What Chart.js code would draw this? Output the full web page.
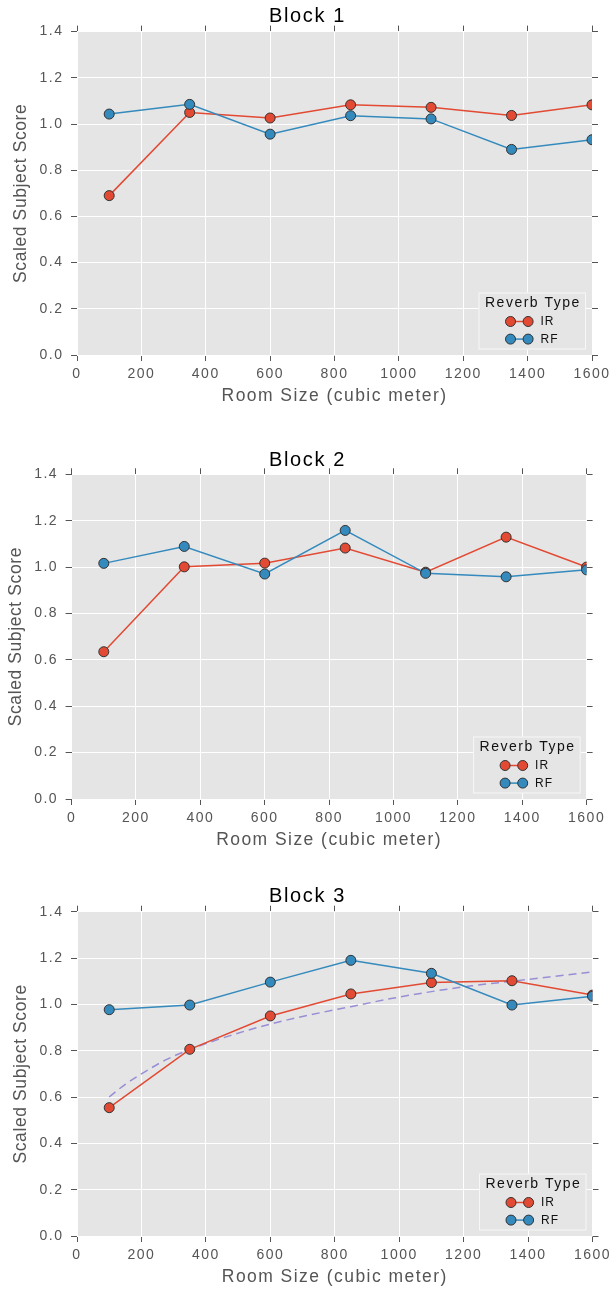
<!DOCTYPE html>
<html>
<head>
<meta charset="utf-8">
<script src="https://cdn.jsdelivr.net/npm/chart.js@4.4.0/dist/chart.umd.min.js"></script>
<style>
  body { margin: 0; background: #fff; }
  canvas { position: absolute; left: 0; }
</style>
</head>
<body>
<canvas id="block1" width="615" height="440" style="top:0px"></canvas>
<canvas id="block2" width="615" height="440" style="top:440px"></canvas>
<canvas id="block3" width="615" height="409" style="top:880px"></canvas>
<script>
// room sizes tested (cubic meter)
const roomSizes = [100, 350, 600, 850, 1100, 1350, 1600];
const seriesNames = ["IR", "RF"];

const xTickValues = [0, 200, 400, 600, 800, 1000, 1200, 1400, 1600];
const xTickLabels = ["0", "200", "400", "600", "800", "1000", "1200", "1400", "1600"];
const yTickValues = [0, 0.2, 0.4, 0.6, 0.8, 1.0, 1.2, 1.4];
const yTickLabels = ["0.0", "0.2", "0.4", "0.6", "0.8", "1.0", "1.2", "1.4"];

const block1IR = [0.69, 1.05, 1.026, 1.083, 1.072, 1.037, 1.083];
const block1RF = [1.043, 1.085, 0.956, 1.036, 1.022, 0.89, 0.932];

const block2IR = [0.635, 1.001, 1.017, 1.082, 0.978, 1.129, 1.0];
const block2RF = [1.016, 1.089, 0.97, 1.158, 0.973, 0.958, 0.988];

const block3IR = [0.554, 0.806, 0.95, 1.045, 1.094, 1.102, 1.04];
const block3RF = [0.977, 0.997, 1.096, 1.19, 1.134, 0.997, 1.035];

// dashed trend line in block 3
const fitSizes = [100, 150, 200, 275, 350, 475, 600, 725, 850, 975, 1100, 1225, 1350, 1475, 1600];
const block3Fit = [0.6, 0.655, 0.7, 0.76, 0.805, 0.865, 0.915, 0.955, 0.99, 1.025, 1.055, 1.08, 1.1, 1.12, 1.14];

const IR_COLOR = "#E24A33";
const RF_COLOR = "#348ABD";
const FIT_COLOR = "#988ED5";
const FONT = "'Liberation Sans', Arial, sans-serif";

Chart.defaults.font.family = FONT;
Chart.defaults.color = "#555555";

function toPoints(xs, ys) {
  return xs.map((x, i) => ({ x: x, y: ys[i] }));
}

// the original was rendered by matplotlib, whose text runs a bit wider;
// add some letter spacing depending on the font size
function spacingFor(size, rotated) {
  if (size >= 19) return 1.6;
  if (size >= 16) return rotated ? 0.6 : 1.45;
  if (size >= 13) return 1.5;
  return 1.0;
}

function widenText(canvas) {
  const ctx = canvas.getContext("2d");
  const rawFill = ctx.fillText;
  ctx.fillText = function (text, x, y, maxWidth) {
    const m = /([\d.]+)px/.exec(ctx.font);
    const size = m ? parseFloat(m[1]) : 12;
    const t = ctx.getTransform();
    const prev = ctx.letterSpacing;
    ctx.letterSpacing = spacingFor(size, Math.abs(t.b) > 0.01) + "px";
    if (maxWidth === undefined) rawFill.call(ctx, text, x, y);
    else rawFill.call(ctx, text, x, y, maxWidth);
    ctx.letterSpacing = prev;
  };
  return canvas;
}

const plotBackground = {
  id: "plotBackground",
  beforeDraw(chart) {
    const { ctx, chartArea } = chart;
    ctx.save();
    ctx.fillStyle = "#E5E5E5";
    ctx.fillRect(chartArea.left, chartArea.top, chartArea.right - chartArea.left, chartArea.bottom - chartArea.top);
    ctx.restore();
  }
};

// matplotlib style legend: title + "o-o" samples, bottom right inside the plot
const reverbLegend = {
  id: "reverbLegend",
  afterDraw(chart) {
    const { ctx, chartArea } = chart;
    const w = 107.5, h = 57;
    const left = chartArea.right - 6 - w;
    const top = chartArea.bottom - 5.5 - h;
    const colors = [IR_COLOR, RF_COLOR];

    ctx.save();
    ctx.fillStyle = "#E5E5E5";
    ctx.strokeStyle = "#F7F7F7";
    ctx.lineWidth = 1;
    ctx.fillRect(left, top, w, h);
    ctx.strokeRect(left + 0.5, top + 0.5, w - 1, h - 1);

    ctx.fillStyle = "#111";
    ctx.font = "14px " + FONT;
    ctx.textAlign = "center";
    ctx.textBaseline = "middle";
    ctx.fillText("Reverb Type", left + w / 2 + 0.7, top + 11);

    seriesNames.forEach((name, i) => {
      const y = top + 29 + i * 17.6;
      const x1 = left + 32, x2 = left + 49.6;
      ctx.strokeStyle = colors[i];
      ctx.lineWidth = 1.5;
      ctx.beginPath();
      ctx.moveTo(x1, y);
      ctx.lineTo(x2, y);
      ctx.stroke();
      [x1, x2].forEach((x) => {
        ctx.beginPath();
        ctx.arc(x, y, 5, 0, Math.PI * 2);
        ctx.fillStyle = colors[i];
        ctx.fill();
        ctx.lineWidth = 1;
        ctx.strokeStyle = "#333";
        ctx.stroke();
      });
      ctx.fillStyle = "#111";
      ctx.font = "12px " + FONT;
      ctx.textAlign = "left";
      ctx.fillText(name, left + 62, y + 0.5);
    });
    ctx.restore();
  }
};

function lineSet(label, data, color, order) {
  return {
    label: label,
    data: data,
    borderColor: color,
    backgroundColor: color,
    borderWidth: 1.5,
    pointRadius: 5,
    pointHoverRadius: 5,
    pointBorderColor: "#333",
    pointBorderWidth: 1,
    pointBackgroundColor: color,
    tension: 0,
    clip: 0,
    order: order
  };
}

function makeBlock(canvasId, title, irValues, rfValues, fitValues, lay) {
  const datasets = [
    lineSet(seriesNames[0], toPoints(roomSizes, irValues), IR_COLOR, 1),
    lineSet(seriesNames[1], toPoints(roomSizes, rfValues), RF_COLOR, 0)
  ];
  if (fitValues) {
    datasets.push({
      label: "fit",
      data: toPoints(fitSizes, fitValues),
      borderColor: FIT_COLOR,
      borderWidth: 1.5,
      borderDash: [8, 5],
      pointRadius: 0,
      cubicInterpolationMode: "monotone",
      clip: 0,
      order: 2
    });
  }

  const setXTicks = (axis) => { axis.ticks = xTickValues.map((v) => ({ value: v })); };
  const setYTicks = (axis) => { axis.ticks = yTickValues.map((v) => ({ value: v })); };
  const tickGrid = { drawOnChartArea: false, tickLength: 6, tickColor: "#555555", tickWidth: 1 };

  new Chart(widenText(document.getElementById(canvasId)), {
    type: "line",
    data: { datasets: datasets },
    options: {
      responsive: false,
      animation: false,
      devicePixelRatio: 1,
      layout: { padding: { top: 0, left: 0, right: 0, bottom: lay.bottomPad } },
      plugins: {
        legend: { display: false },
        tooltip: { enabled: false },
        title: {
          display: true,
          text: title,
          color: "#000",
          font: { size: 20, weight: "normal" },
          padding: { top: lay.titleTop, bottom: lay.titleBottom }
        }
      },
      scales: {
        x: {
          type: "linear",
          min: 0,
          max: 1600,
          afterBuildTicks: setXTicks,
          afterFit: (s) => { s.height = 53; },
          border: { display: false },
          grid: { color: "#FFFFFF", lineWidth: 1, tickLength: 6, tickColor: "#555555" },
          ticks: {
            padding: 4.6,
            font: { size: 14 },
            color: "#555555",
            maxRotation: 0,
            callback: (v, i) => xTickLabels[i]
          },
          title: {
            display: true,
            text: "Room Size (cubic meter)",
            color: "#555555",
            font: { size: 17.5 },
            padding: { top: 0, bottom: 1.8 }
          }
        },
        x2: {
          type: "linear",
          position: "top",
          min: 0,
          max: 1600,
          afterBuildTicks: setXTicks,
          afterFit: (s) => { s.height = 0; },
          border: { display: false },
          grid: tickGrid,
          ticks: { display: false }
        },
        y: {
          type: "linear",
          min: 0,
          max: 1.4,
          afterBuildTicks: setYTicks,
          afterFit: (s) => { s.width = lay.left; },
          border: { display: false },
          grid: { color: "#FFFFFF", lineWidth: 1, tickLength: 6, tickColor: "#555555" },
          ticks: {
            padding: 7.5,
            font: { size: 14 },
            color: "#555555",
            callback: (v, i) => yTickLabels[i]
          },
          title: {
            display: true,
            text: "Scaled Subject Score",
            color: "#555555",
            font: { size: 17.5 },
            padding: { top: lay.yTitlePad, bottom: 0 }
          }
        },
        y2: {
          type: "linear",
          position: "right",
          min: 0,
          max: 1.4,
          afterBuildTicks: setYTicks,
          afterFit: (s) => { s.width = lay.rightPad; },
          border: { display: false },
          grid: tickGrid,
          ticks: { display: false }
        }
      }
    },
    plugins: [plotBackground, reverbLegend]
  });
}

makeBlock("block1", "Block 1", block1IR, block1RF, null,
  { left: 77, rightPad: 23, titleTop: 4.7, titleBottom: 2.9, bottomPad: 32, yTitlePad: 10.6 });
makeBlock("block2", "Block 2", block2IR, block2RF, null,
  { left: 71.6, rightPad: 28.4, titleTop: 8, titleBottom: 2.3, bottomPad: 28, yTitlePad: 5.2 });
makeBlock("block3", "Block 3", block3IR, block3RF, block3Fit,
  { left: 77, rightPad: 22.5, titleTop: 4.7, titleBottom: 3, bottomPad: 0, yTitlePad: 10.6 });
</script>
</body>
</html>
